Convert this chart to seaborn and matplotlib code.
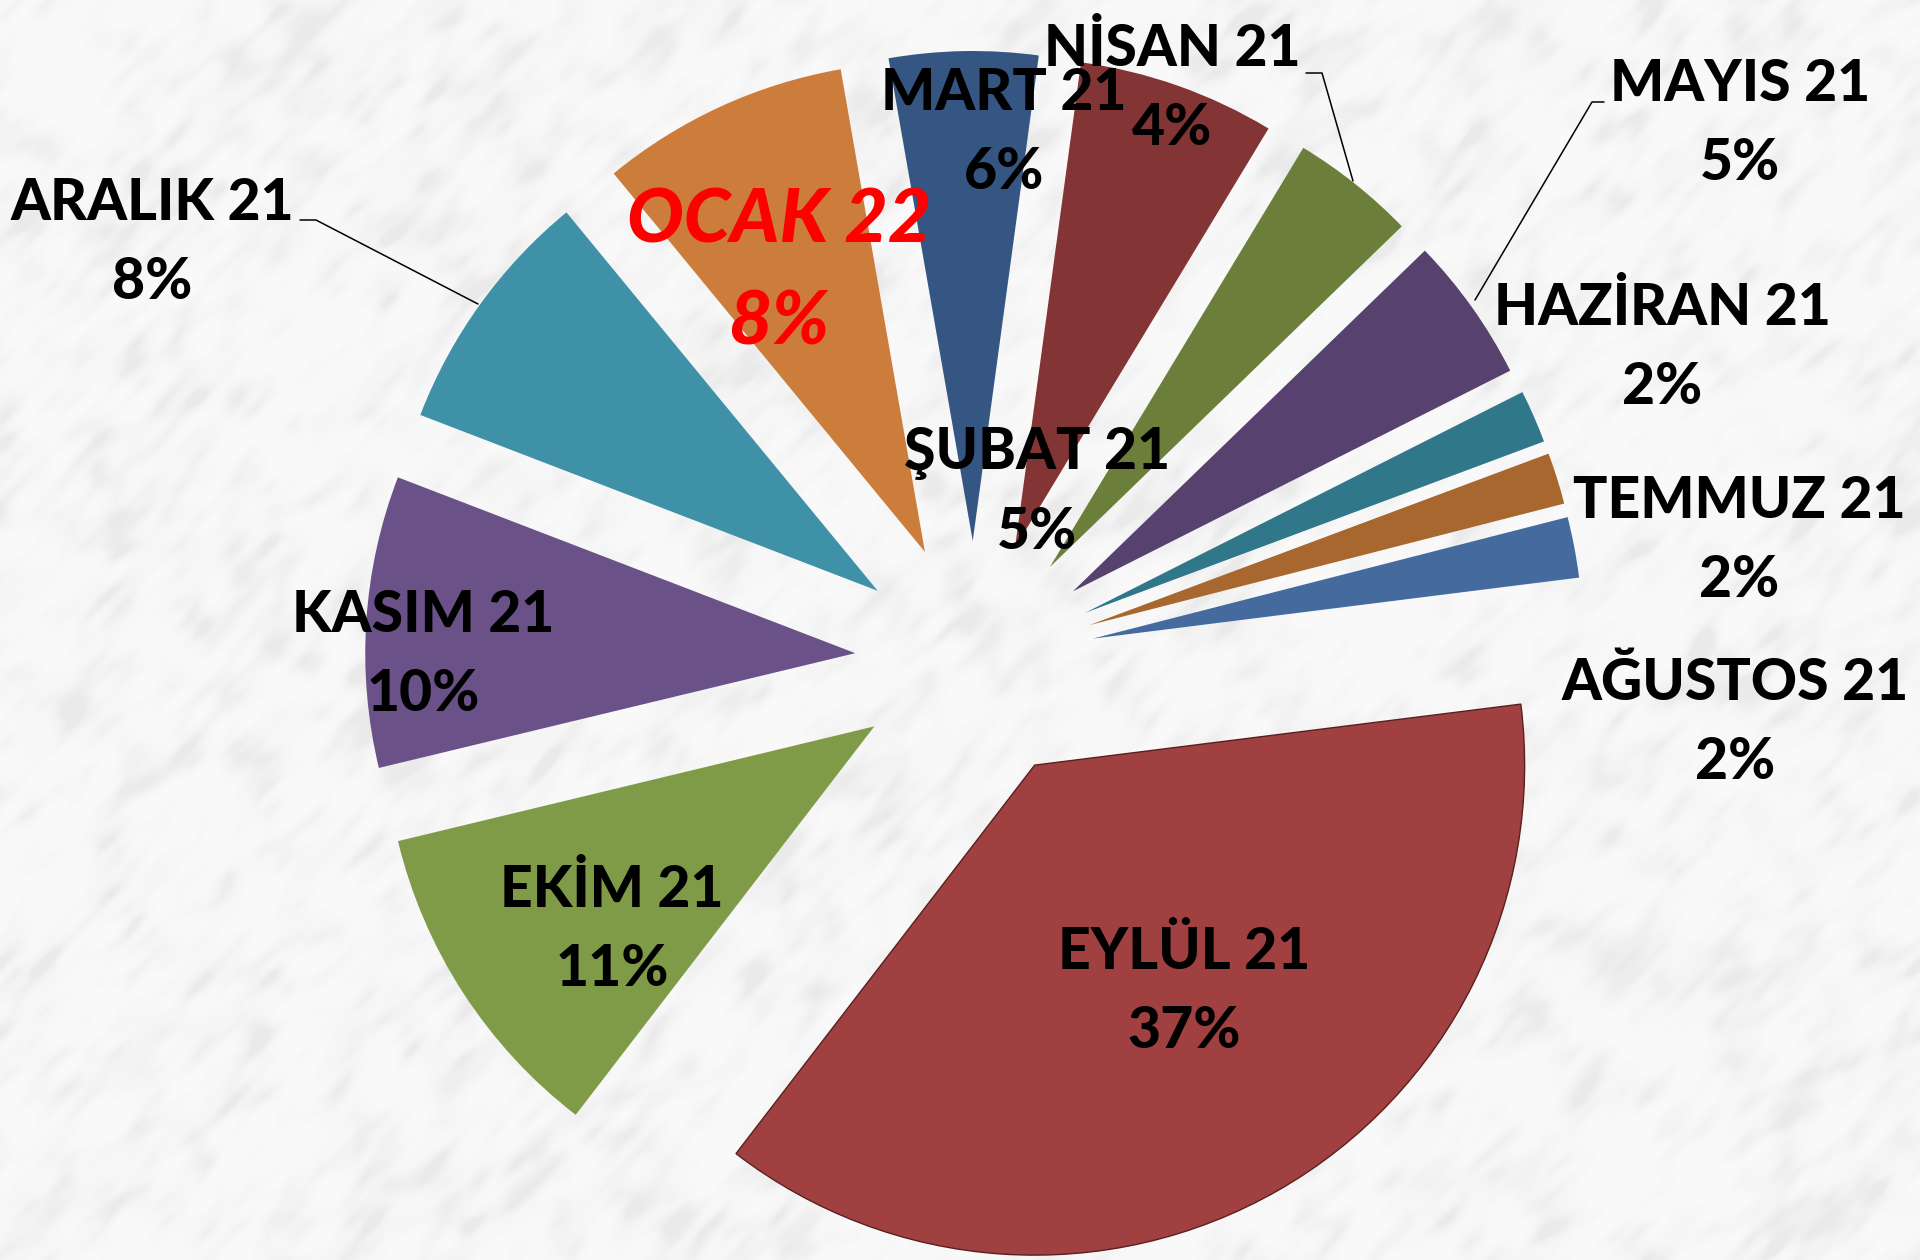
import numpy as np
import matplotlib
matplotlib.use('Agg')
import matplotlib.pyplot as plt
import seaborn as sns

months = ['ŞUBAT 21', 'MART 21', 'NİSAN 21', 'MAYIS 21', 'HAZİRAN 21', 'TEMMUZ 21',
          'AĞUSTOS 21', 'EYLÜL 21', 'EKİM 21', 'KASIM 21', 'ARALIK 21', 'OCAK 22']
shares = [4.9, 6.5, 4.1, 4.8, 1.75, 1.7, 2.0, 37.4, 10.8, 9.6, 8.2, 8.2]
percent_labels = ['5%', '6%', '4%', '5%', '2%', '2%', '2%', '37%', '11%', '10%', '8%', '8%']
slice_colors = ['#355682', '#833434', '#6B7F3A', '#57426F', '#31778A', '#A8672E',
                '#446A9E', '#A04040', '#809B48', '#6A5289', '#3F91A8', '#CC7C3B']

W, H = 1920, 1260
# label centres in image pixels (y down)
label_xy = [(1037, 493), (1004, 133), (1172, 89), (1740, 124), (1662, 348), (1739, 541),
            (1735, 723), (1184, 992), (612, 930), (423, 655), (152, 243), (779, 272)]

sns.set_theme(style='white')
plt.rcParams['font.family'] = ['Lato', 'DejaVu Sans']

fig = plt.figure(figsize=(W / 100, H / 100), dpi=100)
ax = fig.add_axes([0, 0, 1, 1])

# marble backdrop, only decoration: blurred noise stretched along the diagonal
rng = np.random.default_rng(7)
fy = np.fft.fftfreq(H)[:, None]
fx = np.fft.fftfreq(W)[None, :]
along = (fx - fy) / np.sqrt(2)
across = (fx + fy) / np.sqrt(2)
veins = np.exp(-(along / 0.018) ** 2 - (across / 0.05) ** 2)
blotch = np.exp(-(fx / 0.014) ** 2 - (fy / 0.014) ** 2)
tex_veins = np.fft.ifft2(np.fft.fft2(rng.normal(size=(H, W))) * veins).real
tex_blotch = np.fft.ifft2(np.fft.fft2(rng.normal(size=(H, W))) * blotch).real
tex = tex_veins / tex_veins.std() + tex_blotch / tex_blotch.std()
shade = 0.964 - 0.007 * np.clip(tex, -1.5, 1.2) - 0.02 * np.clip(tex - 1.2, 0, 2.0)
ax.imshow(shade, cmap='gray', vmin=0, vmax=1, extent=(0, W, 0, H), aspect='auto', zorder=0)

wedges, _ = ax.pie(shares, colors=slice_colors, explode=[120] * len(shares),
                   center=(975, H - 661), radius=490, startangle=99.9, counterclock=False,
                   normalize=True, frame=True,
                   wedgeprops={'linewidth': 0, 'zorder': 2})
wedges[7].set_edgecolor('#5a2020')
wedges[7].set_linewidth(1.0)

# leader lines
for xs, ys in [([300, 316, 478], [220, 220, 304]),
               ([1306, 1322, 1353], [73, 73, 181]),
               ([1604, 1592, 1475], [102, 102, 300])]:
    ax.plot(xs, [H - y for y in ys], color='black', lw=1.1, zorder=3)

for name, pct, (x, y) in zip(months, percent_labels, label_xy):
    is_current = name == 'OCAK 22'
    ax.text(x, H - y, f'{name}\n{pct}', ha='center', va='center', zorder=4,
            color='red' if is_current else 'black',
            fontsize=54 if is_current else 41, fontweight='black',
            fontstyle='italic' if is_current else 'normal',
            linespacing=1.58 if is_current else 1.6)

ax.set_xlim(0, W)
ax.set_ylim(0, H)
ax.set_aspect('auto')
ax.axis('off')
fig.savefig('out.png', dpi=100)
